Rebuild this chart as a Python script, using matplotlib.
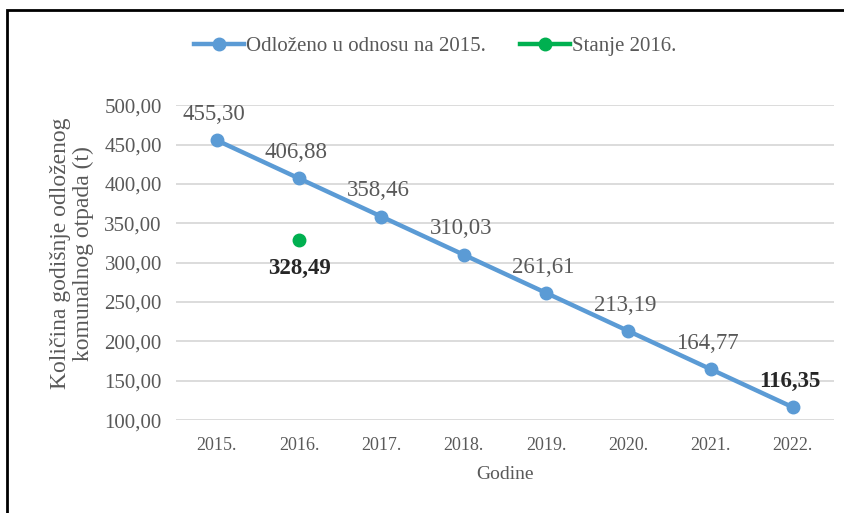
import matplotlib.pyplot as plt
from matplotlib.patches import Rectangle

years = ['2015.', '2016.', '2017.', '2018.', '2019.', '2020.', '2021.', '2022.']
odlozeno = [455.30, 406.88, 358.46, 310.03, 261.61, 213.19, 164.77, 116.35]
stanje_year = 1
stanje_2016 = 328.49

blue = '#5B9BD5'
green = '#00B050'
gray = '#595959'

plt.rcParams['font.family'] = ['Liberation Serif', 'DejaVu Serif']

fig = plt.figure(figsize=(8.45, 5.13), dpi=100)
ax = fig.add_axes([0.208, 0.181, 0.779, 0.614])

x = list(range(len(years)))
ax.plot(x, odlozeno, color=blue, lw=3.2, marker='o', ms=9, label='Odloženo u odnosu na 2015.')
ax.plot([stanje_year], [stanje_2016], color=green, lw=3.2, marker='o', ms=9,
        linestyle='none', label='Stanje 2016.')

def fmt(v):
    return f'{v:.2f}'.replace('.', ',')

for i, v in enumerate(odlozeno):
    bold = i == len(odlozeno) - 1
    ax.annotate(fmt(v), (i, v), xytext=(-2, 11), textcoords='offset points',
                ha='center', va='bottom', fontsize=16.5, color='#262626' if bold else gray,
                fontweight='bold' if bold else 'normal')
ax.annotate(fmt(stanje_2016), (stanje_year, stanje_2016), xytext=(0, -13),
            textcoords='offset points', ha='center', va='top', fontsize=16.5,
            color='#262626', fontweight='bold')

ax.set_xlim(-0.5, len(years) - 0.5)
ax.set_ylim(100, 500)
ax.set_yticks(range(100, 501, 50))
ax.set_yticklabels([fmt(t) for t in range(100, 501, 50)])
ax.set_xticks(x)
ax.set_xticklabels(years)
ax.tick_params(axis='y', labelsize=15, colors=gray, length=0, pad=10)
ax.tick_params(axis='x', labelsize=13, colors=gray, length=0, pad=12)
ax.grid(axis='y', color='#D9D9D9', lw=1.3)
ax.set_axisbelow(True)
for s in ax.spines.values():
    s.set_visible(False)

ax.set_xlabel('Godine', fontsize=14, color=gray, labelpad=9)
ax.set_ylabel('Količina godišnje odloženog\nkomunalnog otpada (t)', fontsize=17,
              color=gray, linespacing=1.1)
ax.yaxis.set_label_coords(-0.124, 0.53)

leg_line = plt.Line2D([], [], color=blue, lw=3.2, marker='o', ms=9)
leg_pt = plt.Line2D([], [], color=green, lw=3.2, marker='o', ms=9)
fig.legend([leg_line, leg_pt], ['Odloženo u odnosu na 2015.', 'Stanje 2016.'],
           loc='center', bbox_to_anchor=(0.515, 0.91), ncol=2, frameon=False,
           fontsize=15, labelcolor=gray, handlelength=2.4, handletextpad=0.1,
           columnspacing=1.6)

fig.patches.append(Rectangle((0.008, -0.01), 1.1, 0.99, transform=fig.transFigure,
                             fill=False, edgecolor='black', lw=2))

fig.savefig('out.png', dpi=100)
